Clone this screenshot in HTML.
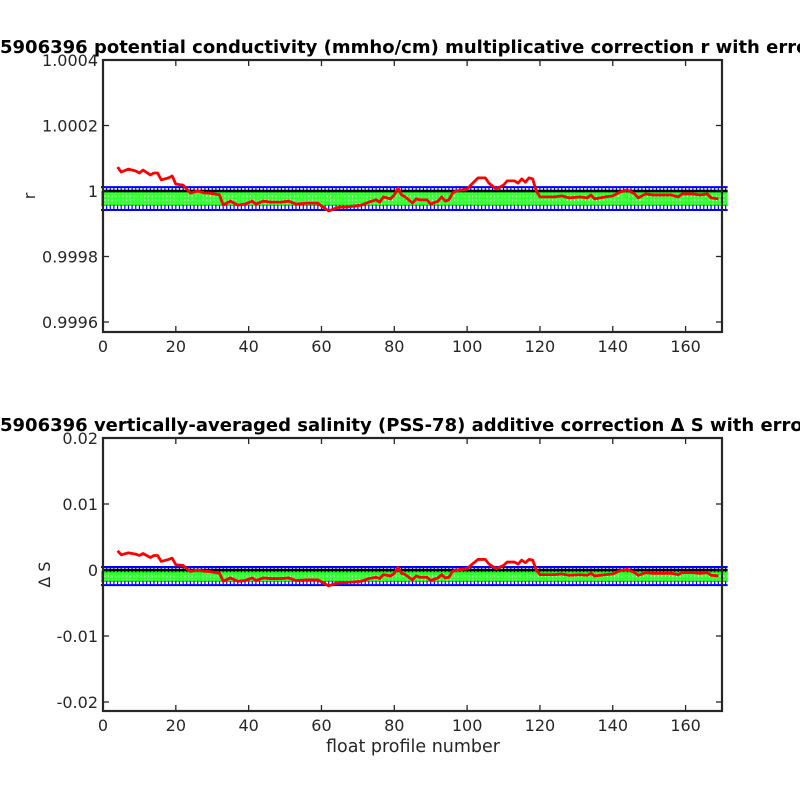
<!DOCTYPE html>
<html><head><meta charset="utf-8"><style>
html,body{margin:0;padding:0;background:#fff}
svg{display:block;font-family:"DejaVu Sans","Liberation Sans",sans-serif}
</style></head><body>
<svg id="chart" width="800" height="800" viewBox="0 0 800 800" xmlns="http://www.w3.org/2000/svg">
<rect x="0" y="0" width="800" height="800" fill="#fff"/>
</svg>
<script>
const profiles=[4,5,7,9,10,11,13,14,15,16,18,19,20,22,23,24,26,28,29,32,33,35,37,39,41,42,44,46,49,51,53,56,59,60,62,64,65,67,69,71,73,75,76,77,79,80,81,82,83,85,86,87,89,90,92,93,94,95,96,97,100,101,103,105,106,108,110,111,113,114,115,116,117,118,119,120,124,126,128,131,133,134,135,138,140,142,144,146,147,149,151,153,156,158,159,162,164,166,167,169];
// r - 1, in units of 1e-5
const rOffset=[7.3,5.8,6.7,6.1,5.5,6.4,4.9,5.5,5.5,3.4,4.0,4.6,2.1,1.8,0.6,-0.6,0,-0.6,-0.6,-1.2,-4.3,-3.1,-4.3,-4.0,-3.1,-4.0,-3.1,-3.4,-3.4,-3.1,-4.0,-3.7,-3.7,-4.6,-6.1,-5.2,-4.9,-4.9,-4.6,-4.3,-3.4,-2.7,-3.4,-1.8,-2.4,-1.2,0.9,-1.2,-1.8,-3.7,-2.4,-2.7,-2.7,-4.0,-3.1,-1.8,-3.1,-2.7,-0.6,0,0.6,1.8,4.0,4.0,2.4,0.6,1.8,3.1,3.1,2.4,3.7,2.7,4.0,3.7,0,-1.8,-1.8,-1.5,-2.1,-1.8,-2.1,-1.2,-2.4,-1.8,-1.5,-0.3,0.3,-0.9,-2.1,-0.9,-1.2,-1.2,-1.2,-1.8,-0.9,-0.9,-1.2,-0.9,-2.1,-2.4];
// delta S, in units of 1e-3
const dS=[2.9,2.3,2.6,2.4,2.2,2.5,1.9,2.2,2.2,1.3,1.6,1.8,0.8,0.7,0.2,-0.2,0,-0.2,-0.2,-0.5,-1.7,-1.2,-1.7,-1.6,-1.2,-1.6,-1.2,-1.3,-1.3,-1.2,-1.6,-1.5,-1.5,-1.8,-2.4,-2.0,-1.9,-1.9,-1.8,-1.7,-1.3,-1.1,-1.3,-0.7,-0.9,-0.5,0.4,-0.5,-0.7,-1.5,-0.9,-1.1,-1.1,-1.6,-1.2,-0.7,-1.2,-1.1,-0.2,0,0.2,0.7,1.6,1.6,0.9,0.2,0.7,1.2,1.2,0.9,1.5,1.1,1.6,1.5,0,-0.7,-0.7,-0.6,-0.8,-0.7,-0.8,-0.5,-0.9,-0.7,-0.6,-0.1,0.1,-0.4,-0.8,-0.4,-0.5,-0.5,-0.5,-0.7,-0.4,-0.4,-0.5,-0.4,-0.8,-0.9];
const xTicks=[0,20,40,60,80,100,120,140,160];
const rTicks=[0.9996,0.9998,1,1.0002,1.0004];
const rTickLabels=["0.9996","0.9998","1","1.0002","1.0004"];
const sTicks=[-0.02,-0.01,0,0.01,0.02];
const sTickLabels=["-0.02","-0.01","0","0.01","0.02"];
const rBlue=[0.999942,1.000012], rGreen=[0.999957,0.999997];
const sBlue=[-0.0023,0.00045], sGreen=[-0.0017,-0.0003];

const NS="http://www.w3.org/2000/svg";
const svg=document.getElementById('chart');
function mk(tag,attrs,parent){const e=document.createElementNS(NS,tag);for(const k in attrs)e.setAttribute(k,attrs[k]);(parent||svg).appendChild(e);return e;}
const X0=103,X1=722;
const xs=v=>X0+(v-0)*(X1-X0)/170;

function panel(cfg){
  const g=mk('g',{});
  
  
  const ys=v=>cfg.yTop+(cfg.ymax-v)*(cfg.yBot-cfg.yTop)/(cfg.ymax-cfg.ymin);
  const clipId=cfg.name+'-clip';
  const cp=mk('clipPath',{id:clipId},g);mk('rect',{x:0,y:cfg.yTop,width:730,height:cfg.yBot-cfg.yTop},cp);
  const marks=mk('g',{'clip-path':'url(#'+clipId+')'},g);
  const xa=xs(0)-2,xb=xs(171)+2;
  // green error bars
  const gb=mk('g',{},marks);
  
  
  mk('rect',{x:xa,y:ys(cfg.green[1]),width:xb-xa,height:ys(cfg.green[0])-ys(cfg.green[1]),fill:'#33ff33'},gb);
  let d2='';
  for(let p=0;p<=171;p++){const x=xs(p)+1.8;d2+=`M${x},${ys(cfg.green[0])}V${ys(cfg.green[1])}`;}
  mk('path',{d:d2,stroke:'#c8ffc8','stroke-width':1,fill:'none','stroke-dasharray':'2,2'},gb);
  mk('line',{x1:xa,x2:xb,y1:ys(cfg.green[0]),y2:ys(cfg.green[0]),stroke:'#00ee00','stroke-width':1.5},gb);
  mk('line',{x1:xa,x2:xb,y1:ys(cfg.green[1]),y2:ys(cfg.green[1]),stroke:'#00ee00','stroke-width':1.5},gb);
  // blue error bars
  const eb=mk('g',{},marks);
  
  
  let d='';
  for(let p=0;p<=171;p++){const x=xs(p);d+=`M${x},${ys(cfg.blue[0])}V${ys(cfg.green[0])}M${x},${ys(cfg.green[1])}V${ys(cfg.blue[1])}`;}
  mk('path',{d:d,stroke:'#0000ff','stroke-width':1.2,fill:'none'},eb);
  mk('line',{x1:xa,x2:xb,y1:ys(cfg.blue[0]),y2:ys(cfg.blue[0]),stroke:'#0000ff','stroke-width':2},eb);
  mk('line',{x1:xa,x2:xb,y1:ys(cfg.blue[1]),y2:ys(cfg.blue[1]),stroke:'#0000ff','stroke-width':2},eb);
  // zero line
  const zl=mk('line',{x1:X0,x2:xb,y1:ys(cfg.zero),y2:ys(cfg.zero),stroke:'#000','stroke-width':2.5},marks);
  
  
  // red line
  const pts=profiles.map((p,i)=>xs(p)+','+ys(cfg.vals[i])).join(' ');
  const rl=mk('polyline',{points:pts,fill:'none',stroke:'#ff0000','stroke-width':2.8,'stroke-linejoin':'round'},marks);
  
  
  // axes box
  const box=mk('rect',{x:X0,y:cfg.yTop,width:X1-X0,height:cfg.yBot-cfg.yTop,fill:'none',stroke:'#262626','stroke-width':2.2},g);
  
  
  xTicks.forEach(t=>{
    const x=xs(t);
    mk('line',{x1:x,x2:x,y1:cfg.yBot,y2:cfg.yBot-6,stroke:'#262626','stroke-width':1.3},g);
    mk('line',{x1:x,x2:x,y1:cfg.yTop,y2:cfg.yTop+6,stroke:'#262626','stroke-width':1.3},g);
    const tx=mk('text',{x:x,y:cfg.yBot+20,'text-anchor':'middle','font-size':16,fill:'#262626'},g);
    
    
    tx.textContent=t;
  });
  cfg.ticks.forEach((t,i)=>{
    const y=ys(t);
    mk('line',{x1:X0,x2:X0+6,y1:y,y2:y,stroke:'#262626','stroke-width':1.3},g);
    mk('line',{x1:X1,x2:X1-6,y1:y,y2:y,stroke:'#262626','stroke-width':1.3},g);
    const tx=mk('text',{x:X0-5,y:y+6,'text-anchor':'end','font-size':16,fill:'#262626'},g);
    
    
    tx.textContent=cfg.labels[i];
  });
  const yl=mk('text',{x:0,y:0,transform:`translate(${cfg.ylabX},${(cfg.yTop+cfg.yBot)/2}) rotate(-90)`,'text-anchor':'middle','font-size':16,fill:'#262626'},g);
  
  
  yl.textContent=cfg.ylab;
  const tt=mk('text',{x:0,y:cfg.yTop-7,'font-size':18,'font-weight':'bold',fill:'#000'},g);
  
  
  tt.textContent=cfg.title;
}
panel({name:'r-panel',yTop:60,yBot:332,ymax:1.0004,ymin:1.0004-272*0.0002/65.5,vals:rOffset.map(v=>1+v*1e-5),
  blue:rBlue,green:rGreen,zero:1,ticks:rTicks,labels:rTickLabels,ylab:'r',ylabX:35,
  title:'5906396 potential conductivity (mmho/cm) multiplicative correction r with error'});
panel({name:'salinity-panel',yTop:438,yBot:711,ymax:0.02,ymin:0.02-273*0.01/66,vals:dS.map(v=>v*1e-3),
  blue:sBlue,green:sGreen,zero:0,ticks:sTicks,labels:sTickLabels,ylab:'Δ S',ylabX:50,
  title:'5906396 vertically-averaged salinity (PSS-78) additive correction Δ S with error'});
const xl=mk('text',{x:413,y:752,'text-anchor':'middle','font-size':17.5,fill:'#262626'});


xl.textContent='float profile number';
</script>
</body></html>
